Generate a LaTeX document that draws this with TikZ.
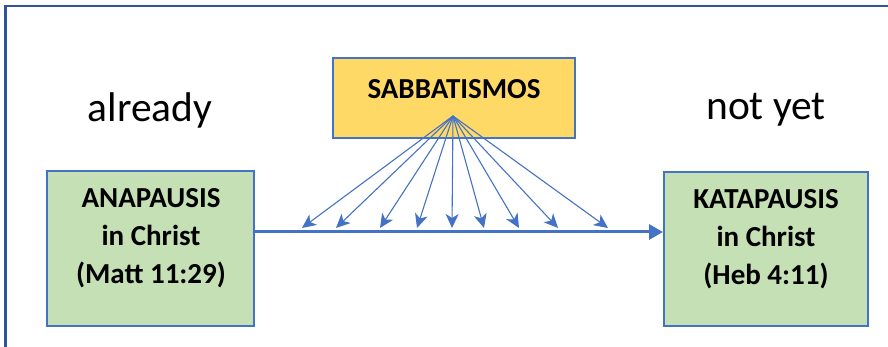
\documentclass[tikz,border=0pt]{standalone}
\usepackage{fontspec}
\setmainfont{Carlito}
\usetikzlibrary{arrows.meta}
\definecolor{frameblue}{HTML}{2F5597}
\definecolor{edgeblue}{HTML}{4472C4}
\definecolor{greenfill}{HTML}{C5E0B4}
\definecolor{goldfill}{HTML}{FFD966}
\tikzset{
  box/.style={draw=edgeblue, line width=2pt, inner sep=0pt},
  boxtext/.style={font=\fontsize{29}{38}\selectfont\bfseries, align=center, inner sep=0pt},
  side/.style={font=\fontsize{41.5}{48}\selectfont, inner sep=0pt},
  ray/.style={draw=edgeblue, line width=1.1pt, -{Stealth[length=14pt,width=13pt,inset=4pt]}},
  mainline/.style={draw=edgeblue, line width=3pt, -{Triangle[length=14pt,width=15pt]}}
}
\begin{document}
\begin{tikzpicture}[x=1pt,y=-1pt]
\useasboundingbox (0,0) rectangle (888,347);
\draw[frameblue, line width=2.6pt] (5.5,350) -- (5.5,6) -- (892,6);
% boxes
\node[box, fill=greenfill, minimum width=207pt, minimum height=155pt] (ana) at (150.5,248.5) {};
\node[box, fill=greenfill, minimum width=204pt, minimum height=154pt] (kata) at (766,249) {};
\node[box, fill=goldfill, minimum width=242pt, minimum height=80pt] (sab) at (454,98) {};
% texts
\node[boxtext] (anat) at (151,238.5) {ANAPAUSIS\\in Christ\\(Matt 11:29)};
\node[boxtext] (katat) at (766,239.5) {KATAPAUSIS\\in Christ\\(Heb 4:11)};
\node[boxtext] (sabt) at (454,89) {SABBATISMOS};
\node[side] (already) at (150,110) {already};
\node[side] (notyet) at (766,110) {not yet};
% main line
\draw[mainline] (ana.east |- 0,232) -- (kata.west |- 0,232);
% fan
\coordinate (src) at (453,116);
\foreach \i/\x in {1/302,2/336,3/380,4/417,5/452,6/484,7/519,8/558,9/608}{
  \coordinate (t\i) at (\x,228);
  \draw[ray] (src) -- (t\i);
}
\end{tikzpicture}
\end{document}
